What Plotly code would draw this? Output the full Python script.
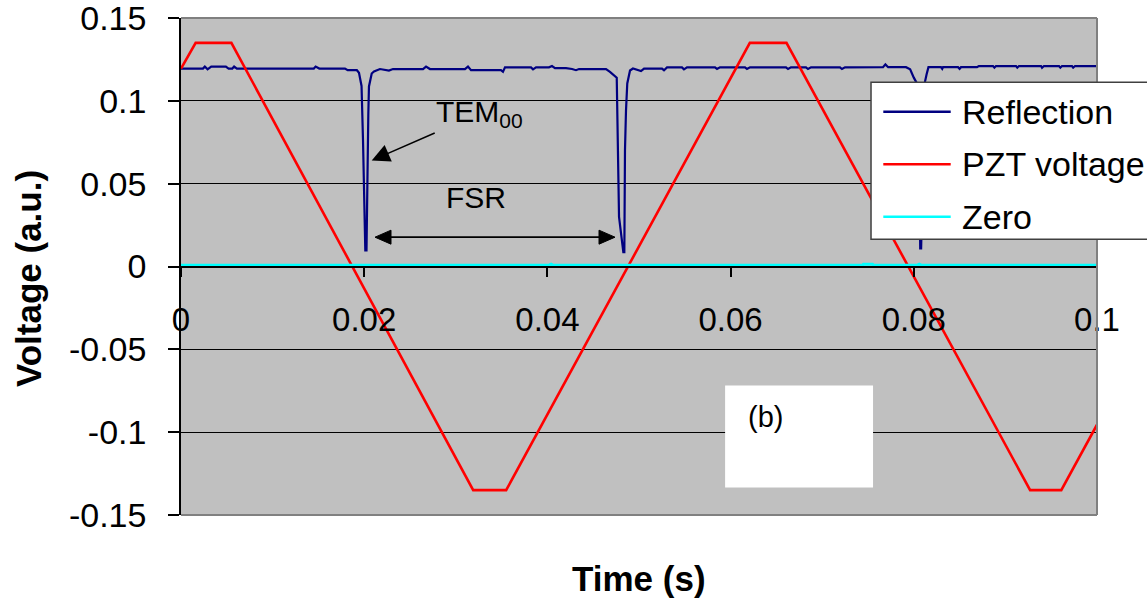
import plotly.graph_objects as go

# ---------------- data ----------------
series_names = ["Reflection", "PZT voltage", "Zero"]
series_colors = ["#000080", "#ff0000", "#00ffff"]

refl_t = [0, 0.0024, 0.0026, 0.0029, 0.0033, 0.0049, 0.0052, 0.0056, 0.0058, 0.0061,
          0.0145, 0.0147, 0.0151, 0.0179, 0.0182, 0.0192, 0.01943, 0.01971, 0.01987,
          0.02012, 0.02025, 0.02036, 0.02045, 0.02052, 0.02082, 0.02107, 0.0214, 0.02172,
          0.0227, 0.02314, 0.02642, 0.02675, 0.02718, 0.0310, 0.03133, 0.03166, 0.03493,
          0.03515, 0.03537, 0.03821, 0.03843, 0.03876, 0.04017, 0.0405, 0.04083, 0.04203,
          0.04269, 0.04312, 0.04345, 0.0464, 0.04683, 0.04727, 0.04757, 0.04782, 0.04803,
          0.04829, 0.0484, 0.04847, 0.04858, 0.04872, 0.04902, 0.04934, 0.05022, 0.05055,
          0.05251, 0.05273, 0.05306, 0.05469, 0.05491, 0.05524, 0.0583, 0.05852, 0.05884,
          0.06157, 0.06179, 0.06212, 0.06605, 0.06627, 0.06659, 0.06823, 0.06845, 0.06878,
          0.07194, 0.07216, 0.07249, 0.07664, 0.0769, 0.0772, 0.07915, 0.0796, 0.0800,
          0.0803, 0.0806, 0.0807, 0.0808, 0.0810, 0.0812, 0.0814, 0.0816, 0.08297, 0.0831,
          0.08319, 0.08483, 0.085, 0.08515, 0.0869, 0.0871, 0.08865, 0.0888, 0.08897,
          0.09116, 0.0913, 0.09148, 0.09389, 0.0940, 0.09421, 0.09585, 0.096, 0.09618,
          0.09727, 0.0974, 0.0976, 0.1]
refl_v = [0.1195, 0.1195, 0.1207, 0.1190, 0.1207, 0.1207, 0.1195, 0.1195, 0.1207, 0.1195,
          0.1195, 0.1207, 0.1195, 0.1195, 0.1185, 0.1185, 0.1170, 0.1090, 0.0760,
          0.0097, 0.0097, 0.0760, 0.0920, 0.1087, 0.1165, 0.1177, 0.1183, 0.1192,
          0.1183, 0.1192, 0.1192, 0.1207, 0.1192, 0.1192, 0.1207, 0.1185, 0.1185,
          0.1175, 0.1202, 0.1202, 0.1190, 0.1202, 0.1202, 0.1210, 0.1197, 0.1197,
          0.1192, 0.1185, 0.1192, 0.1192, 0.1175, 0.1155, 0.1140, 0.0300, 0.0187,
          0.0087, 0.0087, 0.0700, 0.0940, 0.1105, 0.1183, 0.1195, 0.1180, 0.1195,
          0.1195, 0.1185, 0.1202, 0.1202, 0.1190, 0.1202, 0.1202, 0.1192, 0.1202,
          0.1202, 0.1192, 0.1202, 0.1202, 0.1192, 0.1202, 0.1202, 0.1192, 0.1202,
          0.1202, 0.1192, 0.1202, 0.1203, 0.1220, 0.1203, 0.1203, 0.1190, 0.1140,
          0.1110, 0.0700, 0.0109, 0.0109, 0.0700, 0.1110, 0.1160, 0.1203, 0.1203, 0.1193,
          0.1203, 0.1203, 0.1193, 0.1203, 0.1203, 0.1210, 0.1210, 0.1200, 0.1210,
          0.1210, 0.1200, 0.1210, 0.1210, 0.1200, 0.1210, 0.1210, 0.1200, 0.1210,
          0.1210, 0.1200, 0.1210, 0.1210]

pzt_t = [0, 0.0016, 0.0055, 0.0319, 0.0355, 0.0621, 0.0661, 0.0927, 0.0961, 0.1]
pzt_v = [0.1195, 0.135, 0.135, -0.135, -0.135, 0.135, 0.135, -0.135, -0.135, -0.0955]

zero_t = [0, 0.0402, 0.0404, 0.0406, 0.0744, 0.0745, 0.0755, 0.0756, 0.0804, 0.0806, 0.0808, 0.1]
zero_v = [0.0008, 0.0008, 0.0014, 0.0008, 0.0008, 0.0014, 0.0014, 0.0008, 0.0008, 0.0014, 0.0008, 0.0008]

x_tickvals = [0, 0.02, 0.04, 0.06, 0.08, 0.1]
x_ticktext = ["0", "0.02", "0.04", "0.06", "0.08", "0.1"]
y_tickvals = [0.15, 0.1, 0.05, 0, -0.05, -0.1, -0.15]
y_ticktext = ["0.15", "0.1", "0.05", "0", "-0.05", "-0.1", "-0.15"]

x_title = "Time (s)"
y_title = "Voltage (a.u.)"
panel_label = "(b)"

# FSR arrow between the two TEM00 dips (data coords)
fsr_x0, fsr_x1, fsr_y = 0.02118, 0.04738, 0.0177

FONT = "Arial, 'Liberation Sans', sans-serif"

fig = go.Figure()
for t, v, name, col, w in [(refl_t, refl_v, series_names[0], series_colors[0], 2.2),
                           (pzt_t, pzt_v, series_names[1], series_colors[1], 2.6),
                           (zero_t, zero_v, series_names[2], series_colors[2], 3)]:
    fig.add_trace(go.Scatter(x=t, y=v, mode="lines", name=name,
                             line=dict(color=col, width=w), showlegend=False))

shapes = []
# plot frame (top, right, bottom) in gray
for (x0, y0, x1, y1) in [(0, 1, 1, 1), (1, 0, 1, 1), (0, 0, 1, 0)]:
    shapes.append(dict(type="line", xref="x domain", yref="y domain", x0=x0, y0=y0, x1=x1, y1=y1,
                       line=dict(color="#808080", width=2), layer="above"))
# white panel-label box
shapes.append(dict(type="rect", xref="x", yref="y", x0=0.0594, x1=0.07555, y0=-0.1334, y1=-0.0718,
                   fillcolor="white", line=dict(width=0), layer="above"))
# legend box
shapes.append(dict(type="rect", xref="paper", yref="paper", x0=0.7533, x1=1.08, y0=0.5547, y1=0.8706,
                   fillcolor="white", line=dict(color="#404040", width=1.5), layer="above"))
legend_rows = [0.8115, 0.7056, 0.6002]
annotations = []
for name, col, ry in zip(series_names, series_colors, legend_rows):
    shapes.append(dict(type="line", xref="paper", yref="paper", x0=0.7667, x1=0.8403, y0=ry, y1=ry,
                       line=dict(color=col, width=2.5), layer="above"))
    annotations.append(dict(xref="paper", yref="paper", x=0.8504, y=ry, text=name, showarrow=False,
                            xanchor="left", yanchor="middle", font=dict(size=34, color="black", family=FONT)))

# FSR double arrow: shaft + two filled heads (pixel-sized paths anchored at the ends)
shapes.append(dict(type="line", xref="x", yref="y", x0=fsr_x0 + 0.0012, x1=fsr_x1 - 0.0012,
                   y0=fsr_y, y1=fsr_y, line=dict(color="black", width=1.8), layer="above"))
shapes.append(dict(type="path", xref="x", yref="y", xsizemode="pixel", ysizemode="pixel",
                   xanchor=fsr_x0, yanchor=fsr_y, path="M0,0 L16,7 L16,-7 Z",
                   fillcolor="black", line=dict(color="black", width=1), layer="above"))
shapes.append(dict(type="path", xref="x", yref="y", xsizemode="pixel", ysizemode="pixel",
                   xanchor=fsr_x1, yanchor=fsr_y, path="M0,0 L-16,7 L-16,-7 Z",
                   fillcolor="black", line=dict(color="black", width=1), layer="above"))

# axis titles
annotations.append(dict(xref="paper", yref="paper", x=0.5, y=-0.1268, text="<b>" + x_title + "</b>",
                        showarrow=False, xanchor="center", yanchor="middle",
                        font=dict(size=35, color="black", family=FONT)))
annotations.append(dict(xref="paper", yref="paper", x=-0.167, y=0.4748, text="<b>" + y_title + "</b>",
                        showarrow=False, textangle=-90, xanchor="center", yanchor="middle",
                        font=dict(size=35, color="black", family=FONT)))
# panel label
annotations.append(dict(xref="x", yref="y", x=0.0638, y=-0.0907, text=panel_label, showarrow=False,
                        xanchor="center", yanchor="middle", font=dict(size=29, color="black", family=FONT)))
# TEM00 label with arrow pointing at the first dip
annotations.append(dict(xref="x", yref="y", x=0.02082, y=0.064, text="TEM<sub>00</sub>", showarrow=True,
                        ax=108, ay=-47, arrowhead=2, arrowsize=2.4, arrowwidth=1.5, arrowcolor="black",
                        font=dict(size=30, color="black", family=FONT)))
# FSR label
annotations.append(dict(xref="x", yref="y", x=0.0322, y=0.0417, text="FSR", showarrow=False,
                        xanchor="center", yanchor="middle", font=dict(size=30, color="black", family=FONT)))

fig.update_layout(
    width=1147, height=598,
    margin=dict(l=181, r=50, t=18, b=83, autoexpand=False),
    paper_bgcolor="white", plot_bgcolor="#c0c0c0",
    font=dict(family=FONT, color="black"),
    showlegend=False,
    hovermode=False,
    shapes=shapes, annotations=annotations,
    xaxis=dict(range=[0, 0.1000001], tickvals=x_tickvals, ticktext=x_ticktext,
               anchor="free", position=0.5, showline=True, linecolor="black", linewidth=1.5,
               ticks="outside", ticklen=10, tickwidth=1.5, tickcolor="black",
               showgrid=False, zeroline=False, tickfont=dict(size=33, family=FONT, color="black"),
               ticklabelstandoff=14, ticklabeloverflow="allow", automargin=False),
    yaxis=dict(range=[-0.1500001, 0.1500001], tickvals=y_tickvals, ticktext=y_ticktext,
               showline=True, linecolor="black", linewidth=1.5,
               ticks="outside", ticklen=11, tickwidth=1.5, tickcolor="black",
               showgrid=True, gridcolor="black", gridwidth=1, zeroline=False,
               tickfont=dict(size=34, family=FONT, color="black"),
               ticklabelstandoff=15, ticklabeloverflow="allow", automargin=False),
)

# remove the page's default body margin so the figure fills the window exactly
fig.write_html("out.html", config={"displayModeBar": False},
               post_script="document.body.style.margin='0';document.body.style.overflow='hidden';")
